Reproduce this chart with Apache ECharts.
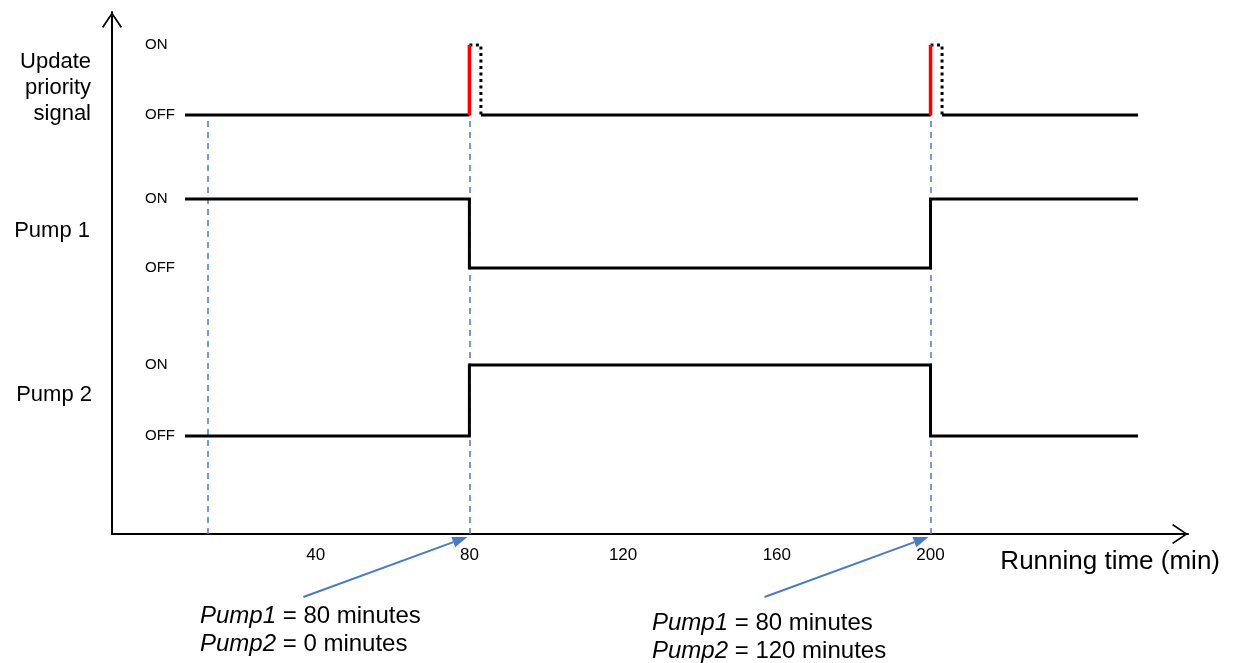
<!DOCTYPE html>
<html>
<head>
<meta charset="utf-8">
<script src="https://cdn.jsdelivr.net/npm/echarts@6/dist/echarts.min.js"></script>
<style>
html,body{margin:0;padding:0;background:#fff;}
#chart{width:1237px;height:663px;}
</style>
</head>
<body>
<div id="chart"></div>
<script>
// ---- data ----
const xTickValues = [40, 80, 120, 160, 200];
const signalNames = ['Update priority signal', 'Pump 1', 'Pump 2'];
const stateLabels = ['OFF', 'ON'];
const traceStart = 6;
const traceEnd = 254;
const markerTimes = [12, 80, 200];
const pulseStarts = [80, 200];
const pulseEnds = [83, 203];
const pump1Times = [6, 80, 200, 254];
const pump1States = [1, 0, 1, 1];
const pump2Times = [6, 80, 200, 254];
const pump2States = [0, 1, 0, 0];
const annotations = [
  ['Pump1', '80 minutes', 'Pump2', '0 minutes'],
  ['Pump1', '80 minutes', 'Pump2', '120 minutes']
];
const xAxisTitle = 'Running time (min)';

// ---- chart ----
const FONT = "'Liberation Sans', Arial, sans-serif";
const X_MIN = -13, X_MAX = 267;
const LEFT = 112, RIGHT = 49;
const BLUE = '#4a7ac4';
const chevron = 'path://M10,0 L20,14.8 L18.7,15.9 L10,2.9 L1.3,15.9 L0,14.8 Z';

const chart = echarts.init(document.getElementById('chart'), null, {renderer: 'canvas'});

const grids = [
  {left: LEFT, right: RIGHT, top: 12, bottom: 129},   // frame
  {left: LEFT, right: RIGHT, top: 45, bottom: 548},   // update signal
  {left: LEFT, right: RIGHT, top: 199, bottom: 395},  // pump 1
  {left: LEFT, right: RIGHT, top: 365, bottom: 227},  // pump 2
  {left: LEFT, right: RIGHT, top: 115, bottom: 129}   // dashed markers
];

const xAxes = grids.map((g, i) => ({
  gridIndex: i, type: 'value', min: X_MIN, max: X_MAX,
  show: i === 0,
  axisLine: i === 0 ? {
    show: true, onZero: false, symbol: ['none', chevron], symbolSize: [20, 16], symbolOffset: [0, -8],
    lineStyle: {color: '#000', width: 2}
  } : {show: false, onZero: false},
  axisTick: {show: false},
  splitLine: {show: false},
  axisLabel: i === 0 ? {
    customValues: xTickValues, color: '#000', fontSize: 17, fontFamily: FONT, margin: 13
  } : {show: false}
}));

const yAxes = grids.map((g, i) => {
  const base = {gridIndex: i, type: 'value', min: 0, max: 1, interval: 1,
    splitLine: {show: false}, axisTick: {show: false}};
  if (i === 0) {
    return Object.assign(base, {
      axisLine: {show: true, onZero: false, symbol: ['none', chevron], symbolSize: [20, 16], symbolOffset: [0, -8],
        lineStyle: {color: '#000', width: 2}},
      axisLabel: {show: false}
    });
  }
  if (i === 4) {
    return Object.assign(base, {show: false});
  }
  return Object.assign(base, {
    axisLine: {show: false, onZero: false},
    axisLabel: {inside: true, margin: 33, color: '#000', fontSize: 15, fontFamily: FONT,
      formatter: v => stateLabels[v]}
  });
});

const series = [];
function addLine(idx, data, style, extra) {
  series.push(Object.assign({
    type: 'line', xAxisIndex: idx, yAxisIndex: idx, data: data, z: 5,
    showSymbol: false, symbol: 'none', clip: false, silent: true,
    lineStyle: style
  }, extra || {}));
}
const solid = {color: '#000', width: 3, cap: 'butt', join: 'miter'};

// update priority signal: OFF segments between pulses
const offBreaks = [traceStart];
pulseStarts.forEach((s, k) => { offBreaks.push(s); offBreaks.push(pulseEnds[k]); });
offBreaks.push(traceEnd);
for (let k = 0; k < offBreaks.length; k += 2) {
  addLine(1, [[offBreaks[k], 0], [offBreaks[k + 1], 0]], solid);
}
// rising edges (red) and dotted pulse remainder
pulseStarts.forEach((s, k) => {
  addLine(1, [[s, 0], [s, 1]], {color: '#ff0000', width: 3.5, cap: 'butt'}, {z: 6});
  addLine(1, [[s, 1], [pulseEnds[k], 1], [pulseEnds[k], 0]],
    {color: '#000', width: 3, type: [3, 3.5], cap: 'butt', join: 'round'});
});
// pumps
addLine(2, pump1Times.map((t, j) => [t, pump1States[j]]), solid, {step: 'end'});
addLine(3, pump2Times.map((t, j) => [t, pump2States[j]]), solid, {step: 'end'});

// dashed vertical markers
series.push({
  type: 'line', xAxisIndex: 4, yAxisIndex: 4, data: [[markerTimes[0], 0]], z: 1,
  showSymbol: false, symbol: 'none', silent: true, lineStyle: {opacity: 0},
  markLine: {
    silent: true, symbol: ['none', 'none'], label: {show: false}, z: 1,
    lineStyle: {color: BLUE, width: 1.5, type: [6, 5]},
    data: markerTimes.map(t => ({xAxis: t}))
  }
});

chart.setOption({
  animation: false,
  backgroundColor: '#fff',
  grid: grids,
  xAxis: xAxes,
  yAxis: yAxes,
  series: series
});

// ---- annotations & labels (graphic) ----
const graphics = [];
const textStyle = (txt, x, y, size, align, extra) => ({
  type: 'text', x: x, y: y, silent: true,
  style: Object.assign({text: txt, fill: '#000', fontSize: size, fontFamily: FONT,
    align: align, verticalAlign: 'middle'}, extra || {})
});
// signal names
const updLines = ['Update', 'priority', 'signal'];
updLines.forEach((w, k) => graphics.push(textStyle(w, 91, 62 + 26 * k, 22, 'right')));
graphics.push(textStyle(signalNames[1], 90, 231, 22, 'right'));
graphics.push(textStyle(signalNames[2], 92, 395, 22, 'right'));
// axis title
graphics.push(textStyle(xAxisTitle, 1220, 562, 26, 'right'));

// arrows to the switch times
const textPos = [[200, 616], [652, 623]];
const AF = 24;
pulseStarts.forEach((t, k) => {
  const p = chart.convertToPixel({xAxisIndex: 0, yAxisIndex: 0}, [t, 0]);
  const tip = [p[0] - 2, p[1] + 3];
  const start = [tip[0] - 164, tip[1] + 60];
  const dx = tip[0] - start[0], dy = tip[1] - start[1];
  const len = Math.sqrt(dx * dx + dy * dy);
  const ux = dx / len, uy = dy / len;
  const hl = 15, hw = 5.5;
  const base = [tip[0] - ux * hl, tip[1] - uy * hl];
  graphics.push({type: 'line', silent: true,
    shape: {x1: start[0], y1: start[1], x2: base[0], y2: base[1]},
    style: {stroke: BLUE, lineWidth: 2}});
  graphics.push({type: 'polygon', silent: true,
    shape: {points: [tip, [base[0] - uy * hw, base[1] + ux * hw], [base[0] + uy * hw, base[1] - ux * hw]]},
    style: {fill: BLUE}});
  const a = annotations[k];
  const rich = {i: {fontStyle: 'italic', fontSize: AF, fontFamily: FONT, fill: '#000'},
                n: {fontSize: AF, fontFamily: FONT, fill: '#000'}};
  graphics.push(textStyle('{i|' + a[0] + '}{n| = ' + a[1] + '}', textPos[k][0], textPos[k][1], AF, 'left', {rich: rich}));
  graphics.push(textStyle('{i|' + a[2] + '}{n| = ' + a[3] + '}', textPos[k][0], textPos[k][1] + 28, AF, 'left', {rich: rich}));
});

chart.setOption({graphic: graphics});
</script>
</body>
</html>
